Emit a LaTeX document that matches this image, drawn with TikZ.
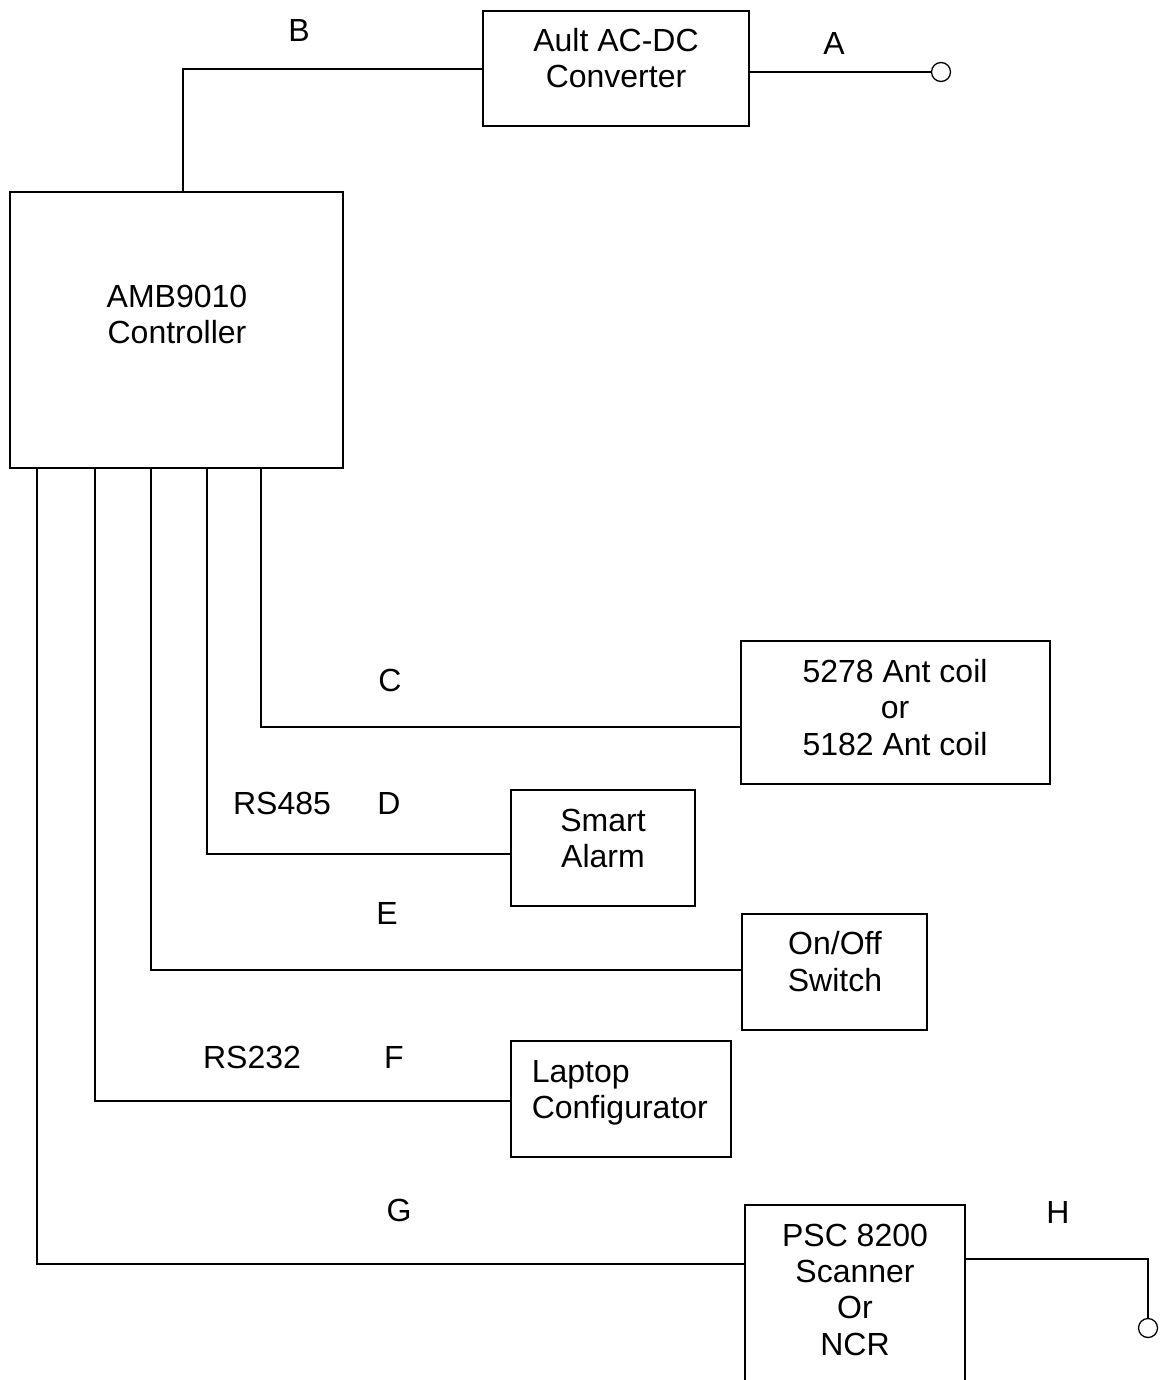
\documentclass[tikz,border=0pt]{standalone}
\usepackage{fontspec}
\setmainfont{Liberation Sans}
\begin{document}
\begin{tikzpicture}[x=1pt,y=-1pt,
  every path/.style={line width=1.6pt},
  box/.style={draw,line width=1.6pt,inner sep=0pt},
  txt/.style={anchor=base,inner sep=0pt,font=\fontsize{32}{36}\selectfont},
  term/.style={draw,circle,minimum size=19pt,inner sep=0pt,line width=1.3pt,fill=white}]
\useasboundingbox[fill=white] (0,0) rectangle (1164,1380);
% boxes
\node[box,minimum width=266pt,minimum height=115pt] (ault) at (616,68.5) {};
\node[box,minimum width=333pt,minimum height=276pt] (ctrl) at (176.5,330) {};
\node[box,minimum width=309pt,minimum height=143pt] (coil) at (895.5,712.5) {};
\node[box,minimum width=184pt,minimum height=116pt] (alarm) at (603,848) {};
\node[box,minimum width=185pt,minimum height=116pt] (switch) at (834.5,972) {};
\node[box,minimum width=220pt,minimum height=116pt] (laptop) at (621,1099) {};
\coordinate (pscTL) at (745,1205);
\coordinate (pscTR) at (965,1205);
\draw (745,1380) -- (pscTL) -- (pscTR) -- (965,1380);
% terminals
\node[term] (tA) at (941,72) {};
\node[term] (tH) at (1148,1328) {};
% texts
\node[txt] (t1) at (616,52) {Ault AC-DC};
\node[txt] (t2) at (616,88) {Converter};
\node[txt] (lA) at (834,55) {A};
\node[txt] (lB) at (299,42) {B};
\node[txt] (t3) at (177,307) {AMB9010};
\node[txt] (t4) at (177,343) {Controller};
\node[txt] (t5) at (895,682) {5278 Ant coil};
\node[txt] (t6) at (895,718) {or};
\node[txt] (t7) at (895,755) {5182 Ant coil};
\node[txt] (lC) at (390,691) {C};
\node[txt] (l485) at (282,814) {RS485};
\node[txt] (lD) at (389,814) {D};
\node[txt] (t8) at (603,831) {Smart};
\node[txt] (t9) at (603,867) {Alarm};
\node[txt] (lE) at (387,924) {E};
\node[txt] (t10) at (835,954) {On/Off};
\node[txt] (t11) at (835,991) {Switch};
\node[txt] (l232) at (252,1068) {RS232};
\node[txt] (lF) at (394,1068) {F};
\node[txt,anchor=base west] (t12) at (531,1082) {Laptop};
\node[txt,anchor=base west] (t13) at (531,1118) {Configurator};
\node[txt] (lG) at (399,1221) {G};
\node[txt] (lH) at (1058,1223) {H};
\node[txt] (t14) at (855,1246) {PSC 8200};
\node[txt] (t15) at (855,1282) {Scanner};
\node[txt] (t16) at (855,1318) {Or};
\node[txt] (t17) at (855,1355) {NCR};
% connectors
\draw (ault.east |- tA) -- (tA.west);
\draw (ault.west |- 0,69) -- (183,69) -- (183,0 |- ctrl.north);
\draw (261,0 |- ctrl.south) -- (261,727) -- (coil.west |- 0,727);
\draw (207,0 |- ctrl.south) -- (207,854) -- (alarm.west |- 0,854);
\draw (151,0 |- ctrl.south) -- (151,970) -- (switch.west |- 0,970);
\draw (95,0 |- ctrl.south) -- (95,1101) -- (laptop.west |- 0,1101);
\draw (37,0 |- ctrl.south) -- (37,1264) -- (pscTL |- 0,1264);
\draw (pscTR |- 0,1259) -- (1148,1259) -- (tH.north);
\end{tikzpicture}
\end{document}
